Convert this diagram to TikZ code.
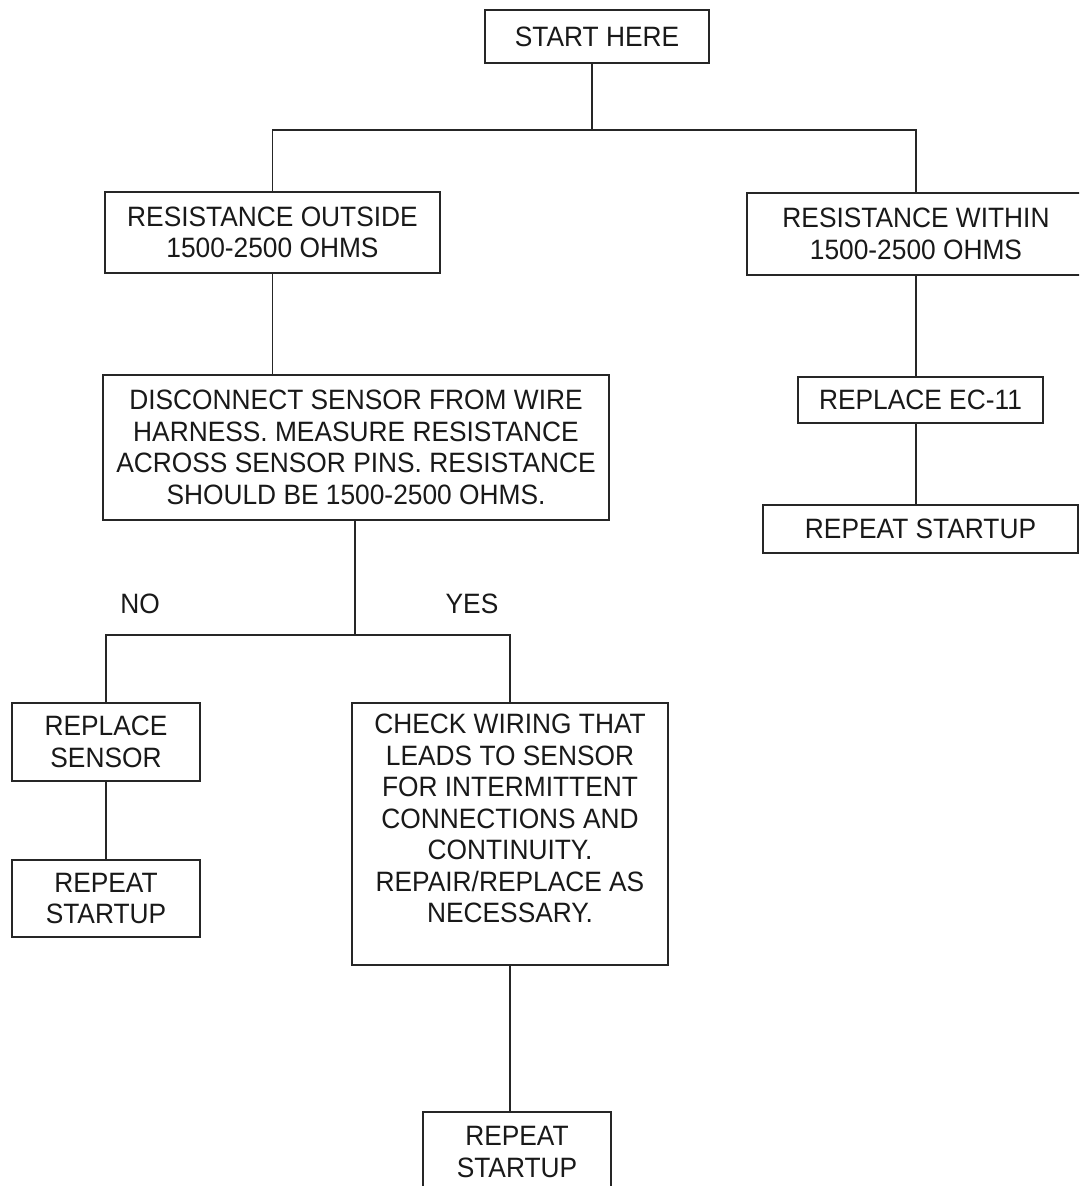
\documentclass[tikz,border=0pt]{standalone}
\usepackage{fontspec}
\setmainfont{Liberation Sans}[FakeStretch=0.94]
\begin{document}
\begin{tikzpicture}[x=1pt,y=1pt,
  box/.style={draw=black!85, line width=1.8pt, align=center, inner sep=0pt,
    font=\fontsize{28pt}{31.5pt}\selectfont, text=black!90},
  lbl/.style={font=\fontsize{28pt}{31.5pt}\selectfont, text=black!90, inner sep=0pt},
  conn/.style={draw=black!85, line width=1.8pt}]
\clip (0,0) rectangle (1079,-1186);
\useasboundingbox (0,0) rectangle (1079,-1186);
\fill[white] (0,0) rectangle (1079,-1186);

\node[box, minimum width=224pt, minimum height=53pt] (start) at (597,-36.5) {START HERE};
\node[box, minimum width=335pt, minimum height=81pt] (resout) at (272.5,-232.5) {RESISTANCE OUTSIDE\\1500-2500 OHMS};
\node[box, minimum width=338pt, minimum height=82pt] (reswithin) at (916,-234) {RESISTANCE WITHIN\\1500-2500 OHMS};
\node[box, minimum width=506pt, minimum height=145pt] (disc) at (356,-447.5) {DISCONNECT SENSOR FROM WIRE\\HARNESS. MEASURE RESISTANCE\\ACROSS SENSOR PINS. RESISTANCE\\SHOULD BE 1500-2500 OHMS.};
\node[box, minimum width=245pt, minimum height=46pt] (ec11) at (920.5,-400) {REPLACE EC-11};
\node[box, minimum width=315pt, minimum height=48pt] (rep2) at (920.5,-529) {REPEAT STARTUP};
\node[box, minimum width=188pt, minimum height=78pt] (replsensor) at (106,-742) {REPLACE\\SENSOR};
\node[box, minimum width=188pt, minimum height=77pt] (rep1) at (106,-898.5) {REPEAT\\STARTUP};
\node[box, minimum width=316pt, minimum height=262pt] (check) at (510,-834) {\raisebox{12pt}[\height][\depth]{\begin{tabular}{@{}c@{}}CHECK WIRING THAT\\LEADS TO SENSOR\\FOR INTERMITTENT\\CONNECTIONS AND\\CONTINUITY.\\REPAIR/REPLACE AS\\NECESSARY.\end{tabular}}};
\node[box, minimum width=188pt, minimum height=80pt] (rep3) at (517,-1152) {REPEAT\\STARTUP};

\node[lbl] (no) at (140,-604) {NO};
\node[lbl] (yes) at (472,-604) {YES};

\coordinate (j1) at (592,-130);
\coordinate (j2) at (355,-635);

\draw[conn] (start.south -| j1) -- (j1);
\draw[conn] (resout.north) |- (reswithin.north |- j1) -- (reswithin.north);
\draw[conn] (resout.south) -- (resout.south |- disc.north);
\draw[conn] (reswithin.south) -- (reswithin.south |- ec11.north);
\draw[conn] (ec11.south -| reswithin.south) -- (rep2.north -| reswithin.south);
\draw[conn] (disc.south -| j2) -- (j2);
\draw[conn] (replsensor.north) |- (check.north |- j2) -- (check.north);
\draw[conn] (replsensor.south) -- (rep1.north);
\draw[conn] (check.south) -- (check.south |- rep3.north);
\end{tikzpicture}
\end{document}
